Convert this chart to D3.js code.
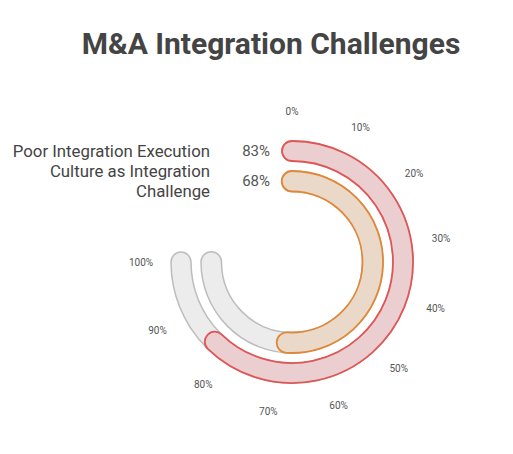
<!DOCTYPE html>
<html>
<head>
<meta charset="utf-8">
<script src="https://cdn.jsdelivr.net/npm/d3@7/dist/d3.min.js"></script>
<style>
  html, body { margin: 0; padding: 0; background: #fff; }
  svg { display: block; font-family: Roboto, "Open Sans", sans-serif; }
</style>
</head>
<body>
<svg id="chart" width="513" height="454"></svg>
<script>
const title = "M&A Integration Challenges";
const categories = [
  ["Poor Integration Execution"],
  ["Culture as Integration", "Challenge"]
];
const values = [83, 68];
const strokeColors = ["#e05656", "#e0883a"];
const fillColors = ["#ebcfd0", "#ead9c9"];
const tickValues = [0, 10, 20, 30, 40, 50, 60, 70, 80, 90, 100];

const svg = d3.select("#chart");
const cx = 292, cy = 262;
const rings = [{ rIn: 101, rOut: 121 }, { rIn: 70.5, rOut: 91 }];

const angle = d3.scaleLinear().domain([0, 100]).range([0, 1.5 * Math.PI]);

function band(a0, a1, rIn, rOut) {
  const p = d3.path();
  const t0 = a0 - Math.PI / 2, t1 = a1 - Math.PI / 2;
  const rm = (rIn + rOut) / 2, w = (rOut - rIn) / 2;
  p.moveTo(cx + rOut * Math.cos(t0), cy + rOut * Math.sin(t0));
  p.arc(cx, cy, rOut, t0, t1, false);
  p.arc(cx + rm * Math.cos(t1), cy + rm * Math.sin(t1), w, t1, t1 + Math.PI, false);
  p.arc(cx, cy, rIn, t1, t0, true);
  p.arc(cx + rm * Math.cos(t0), cy + rm * Math.sin(t0), w, t0 + Math.PI, t0 + 2 * Math.PI, false);
  p.closePath();
  return p.toString();
}

svg.append("text")
  .attr("x", 271).attr("y", 54)
  .attr("text-anchor", "middle")
  .attr("font-size", 30).attr("font-weight", 700)
  .attr("fill", "#444")
  .text(title);

// background tracks
svg.selectAll("path.track").data(rings).enter().append("path")
  .attr("class", "track")
  .attr("d", r => band(angle(0), angle(100), r.rIn, r.rOut))
  .attr("fill", "#ececec").attr("stroke", "#bdbdbd").attr("stroke-width", 1.5);

// value bars
svg.selectAll("path.bar").data(values).enter().append("path")
  .attr("class", "bar")
  .attr("d", (v, i) => band(angle(0), angle(v), rings[i].rIn, rings[i].rOut))
  .attr("fill", (v, i) => fillColors[i])
  .attr("stroke", (v, i) => strokeColors[i])
  .attr("stroke-width", 1.8);

// tick labels
svg.selectAll("text.tick").data(tickValues).enter().append("text")
  .attr("class", "tick")
  .attr("x", d => cx + 151 * Math.sin(angle(d)))
  .attr("y", d => cy - 151 * Math.cos(angle(d)))
  .attr("text-anchor", "middle").attr("dominant-baseline", "central")
  .attr("font-size", 10).attr("fill", "#555")
  .text(d => d + "%");

// value labels
svg.selectAll("text.val").data(values).enter().append("text")
  .attr("class", "val")
  .attr("x", 270)
  .attr("y", (v, i) => cy - (rings[i].rIn + rings[i].rOut) / 2)
  .attr("text-anchor", "end").attr("dominant-baseline", "central")
  .attr("font-size", 15).attr("fill", "#555")
  .text(v => v + "%");

// category labels
categories.forEach((lines, i) => {
  const ym = cy - (rings[i].rIn + rings[i].rOut) / 2;
  const lh = 20;
  lines.forEach((ln, j) => {
    svg.append("text")
      .attr("x", 210)
      .attr("y", ym + (j - (lines.length - 1) / 2) * lh)
      .attr("text-anchor", "end").attr("dominant-baseline", "central")
      .attr("font-size", 16.8).attr("fill", "#444")
      .text(ln);
  });
});
</script>
</body>
</html>
